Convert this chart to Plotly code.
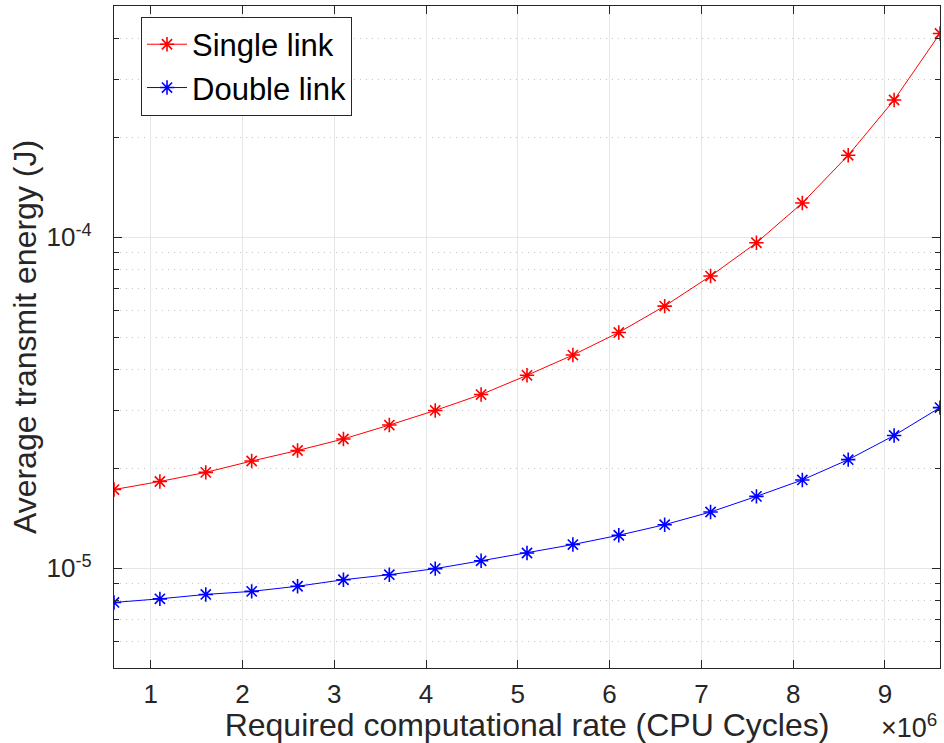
import plotly.graph_objects as go

# Data (x in units of 10^6 CPU cycles)
rate_millions = [0.6, 1.1, 1.6, 2.1, 2.6, 3.1, 3.6, 4.1, 4.6, 5.1,
                 5.6, 6.1, 6.6, 7.1, 7.6, 8.1, 8.6, 9.1, 9.6]
single_link = [1.73e-5, 1.83e-5, 1.95e-5, 2.11e-5, 2.27e-5, 2.46e-5, 2.71e-5, 3.00e-5,
               3.35e-5, 3.83e-5, 4.41e-5, 5.16e-5, 6.20e-5, 7.64e-5, 9.63e-5, 1.27e-4,
               1.77e-4, 2.60e-4, 4.13e-4]
double_link = [7.89e-6, 8.09e-6, 8.34e-6, 8.52e-6, 8.83e-6, 9.24e-6, 9.57e-6, 9.98e-6,
               1.054e-5, 1.113e-5, 1.18e-5, 1.259e-5, 1.355e-5, 1.48e-5, 1.65e-5, 1.85e-5,
               2.13e-5, 2.52e-5, 3.06e-5]

x_tick_vals = [1, 2, 3, 4, 5, 6, 7, 8, 9]
x_tick_text = ["1", "2", "3", "4", "5", "6", "7", "8", "9"]
y_tick_vals = [1e-5, 1e-4]
y_tick_text = ["10<sup>-5</sup>", "10<sup>-4</sup>"]

FONT = "Liberation Sans, Arial, Helvetica, sans-serif"
AX = "#262626"

y_minor = [m * 10.0 ** e for e in (-6, -5, -4) for m in range(2, 10)
           if 5e-6 <= m * 10.0 ** e <= 5e-4]

fig = go.Figure()
fig.add_trace(go.Scatter(
    x=rate_millions, y=single_link, name="Single link", mode="lines+markers",
    line=dict(color="#FF0000", width=1),
    marker=dict(symbol="asterisk-open", size=12, color="#FF0000",
                line=dict(color="#FF0000", width=1.6)),
))
fig.add_trace(go.Scatter(
    x=rate_millions, y=double_link, name="Double link", mode="lines+markers",
    line=dict(color="#0000FF", width=1),
    marker=dict(symbol="asterisk-open", size=12, color="#0000FF",
                line=dict(color="#0000FF", width=1.6)),
))

fig.update_layout(
    width=944, height=743,
    margin=dict(l=114, r=4, t=6, b=75),
    paper_bgcolor="white", plot_bgcolor="white",
    font=dict(family=FONT, color=AX, size=26),
    showlegend=True,
    legend=dict(
        x=0.0327, y=0.984, xanchor="left", yanchor="top",
        bgcolor="white", bordercolor=AX, borderwidth=1,
        font=dict(size=31, family=FONT, color="black"),
        tracegroupgap=0, itemwidth=40,
    ),
    xaxis=dict(
        range=[0.6, 9.6], tickmode="array", tickvals=x_tick_vals, ticktext=x_tick_text,
        showline=True, linecolor=AX, linewidth=1.2, mirror="ticks",
        ticks="inside", ticklen=8, tickcolor=AX, tickwidth=1.2,
        showgrid=True, gridcolor="#e6e6e6", gridwidth=1,
        zeroline=False, automargin=False, ticklabelstandoff=3,
        tickfont=dict(size=26, family=FONT, color=AX),
        title=dict(text="Required computational rate (CPU Cycles)",
                   font=dict(size=32, family=FONT, color=AX), standoff=0),
    ),
    yaxis=dict(
        type="log", range=[-5.30103, -3.30103],
        tickmode="array", tickvals=y_tick_vals, ticktext=y_tick_text,
        showline=True, linecolor=AX, linewidth=1.2, mirror="ticks",
        ticks="inside", ticklen=8, tickcolor=AX, tickwidth=1.2,
        showgrid=True, gridcolor="#e6e6e6", gridwidth=1,
        zeroline=False, automargin=False, ticklabelstandoff=16,
        tickfont=dict(size=26, family=FONT, color=AX),
        minor=dict(tickmode="array", tickvals=y_minor, ticks="inside", ticklen=5,
                   tickcolor=AX, showgrid=True, gridcolor="#c4c4c4",
                   griddash="1px,5px", gridwidth=1),
        title=dict(text="Average transmit energy (J)",
                   font=dict(size=32, family=FONT, color=AX), standoff=0),
    ),
    annotations=[dict(
        text="\u00d710<sup>6</sup>", xref="paper", yref="paper",
        x=0.999, y=-0.087, xanchor="right", yanchor="middle", showarrow=False,
        font=dict(size=27, family=FONT, color=AX),
    )],
)

fig.write_html("out.html")
